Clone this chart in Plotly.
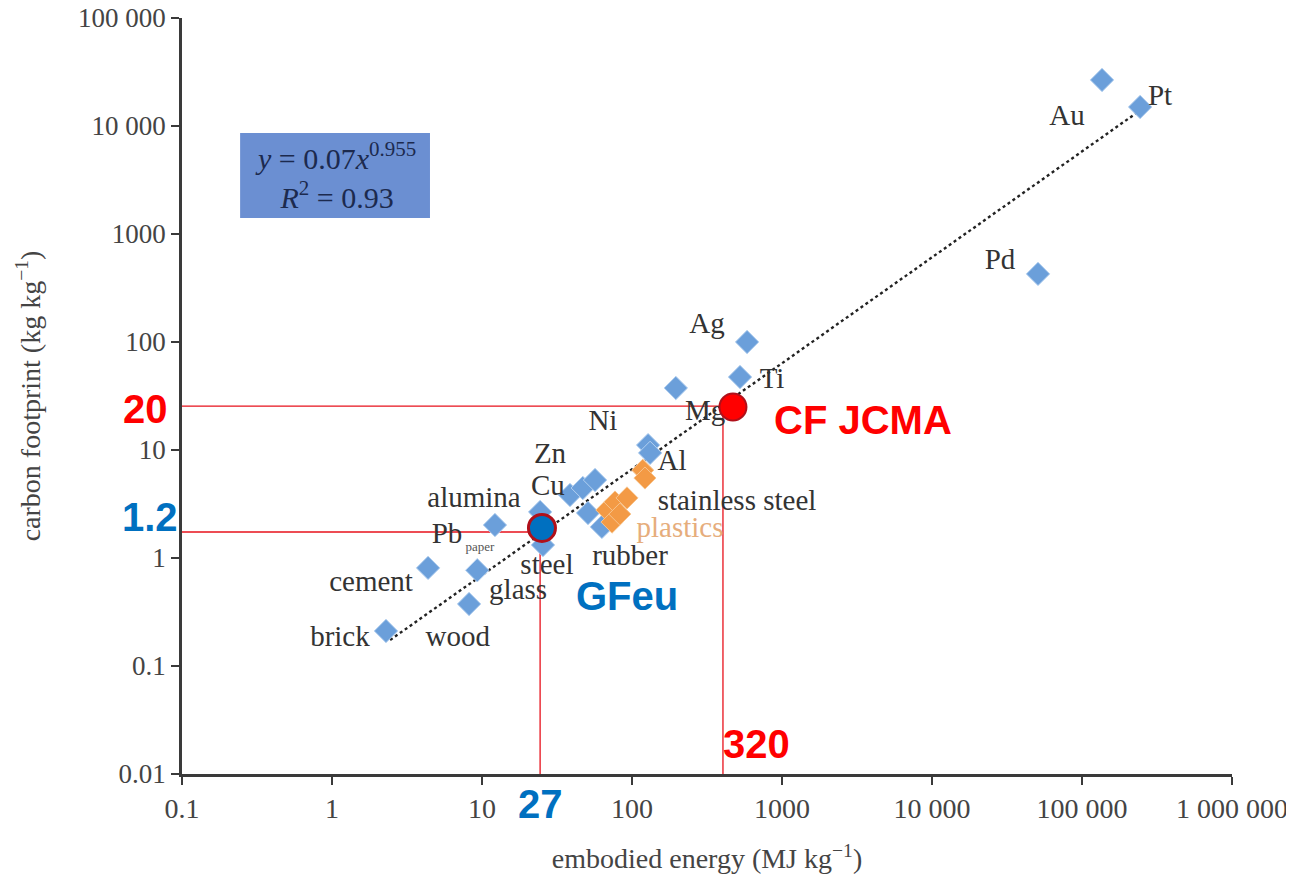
import numpy as np
import plotly.graph_objects as go

# ---- data ----
mat_energy = [2.29, 4.37, 9.3, 8.2, 12.2, 24.4, 25.5, 38.6, 47, 56.7, 50.9, 63,
              128, 132, 196, 525, 585, 50900, 136000, 244000]
mat_carbon = [0.211, 0.81, 0.77, 0.375, 2.02, 2.67, 1.32, 3.83, 4.45, 5.27, 2.61, 1.94,
              11.1, 9.4, 37.5, 47.4, 100, 427, 26700, 15000]

org_energy = [118, 122, 68, 77, 92.6, 73.6, 83]
org_carbon = [6.5, 5.5, 2.78, 3.3, 3.6, 2.15, 2.55]

trend_energy = [2.44, 236000]
trend_carbon = [0.174, 13500]

label_text = ["Au", "Pt", "Pd", "Ag", "Ti", "Mg", "Ni", "Zn", "Al", "Cu", "alumina",
              "stainless steel", "Pb", "rubber", "steel", "cement", "glass", "brick", "wood"]
label_energy = [79400, 331000, 28400, 316, 858, 307, 64, 28.4, 185, 27.5, 8.85,
                501, 5.84, 97, 27.1, 1.82, 17.4, 1.13, 6.9]
label_carbon = [11900, 18200, 551, 141, 43.5, 22, 17.8, 8.8, 7.6, 4.45, 3.44,
                3.23, 1.6, 1.0, 0.83, 0.574, 0.484, 0.18, 0.18]

small_label = ["paper"]
small_energy = [9.7]
small_carbon = [1.24]

plast_label = ["plastics"]
plast_energy = [209]
plast_carbon = [1.82]

# highlighted products
hl_names = ["GFeu", "CF JCMA"]
hl_energy = [25.1, 471]
hl_carbon = [1.9, 25]
guide_energy = [24.4, 404]   # corner of guide lines
guide_carbon = [1.74, 25.5]
hl_xtext = ["27", "320"]
hl_ytext = ["1.2", "20"]

# fit box (data units)
box_energy = [0.244, 4.5]
box_carbon = [1406, 8610]

x_tickvals = [0.1, 1, 10, 100, 1000, 10000, 100000, 1000000]
x_ticktext = ["0.1", "1", "10", "100", "1000", "10 000", "100 000", "1 000 000"]
y_tickvals = [0.01, 0.1, 1, 10, 100, 1000, 10000, 100000]
y_ticktext = ["0.01", "0.1", "1", "10", "100", "1000", "10 000", "100 000"]

X_MIN, Y_MIN = 0.1, 0.01

SERIF = "Liberation Serif, Times New Roman, serif"
SANS = "Liberation Sans, Arial, sans-serif"
RED = "#ff0000"
BLUE = "#0070c0"

fig = go.Figure()

# guide lines (red)
for gx, gy in zip(guide_energy, guide_carbon):
    fig.add_trace(go.Scatter(x=[X_MIN, gx, gx], y=[gy, gy, Y_MIN], mode="lines",
                             line=dict(color="#e8121c", width=1.3),
                             showlegend=False, hoverinfo="skip", cliponaxis=False))

# trend line
fig.add_trace(go.Scatter(x=trend_energy, y=trend_carbon, mode="lines",
                         line=dict(color="#222222", width=2.4, dash="dot"),
                         showlegend=False, hoverinfo="skip"))

# material points
fig.add_trace(go.Scatter(x=mat_energy, y=mat_carbon, mode="markers",
                         marker=dict(symbol="diamond", size=18, color="#6b9fda",
                                     line=dict(color="#b3d0f0", width=1)),
                         showlegend=False))
fig.add_trace(go.Scatter(x=org_energy, y=org_carbon, mode="markers",
                         marker=dict(symbol="diamond", size=17, color="#f39a45",
                                     line=dict(color="#f7c48e", width=1)),
                         showlegend=False))

# labels
fig.add_trace(go.Scatter(x=label_energy, y=label_carbon, mode="text", text=label_text,
                         textfont=dict(family=SERIF, size=29, color="#333333"),
                         showlegend=False, hoverinfo="skip"))
fig.add_trace(go.Scatter(x=small_energy, y=small_carbon, mode="text", text=small_label,
                         textfont=dict(family=SERIF, size=13, color="#555555"),
                         showlegend=False, hoverinfo="skip"))
fig.add_trace(go.Scatter(x=plast_energy, y=plast_carbon, mode="text", text=plast_label,
                         textfont=dict(family=SERIF, size=29, color="#e6ad7c"),
                         showlegend=False, hoverinfo="skip"))

# highlighted dots
fig.add_trace(go.Scatter(x=[hl_energy[0]], y=[hl_carbon[0]], mode="markers",
                         marker=dict(symbol="circle", size=27, color=BLUE,
                                     line=dict(color="#b0101a", width=3)),
                         showlegend=False))
fig.add_trace(go.Scatter(x=[hl_energy[1]], y=[hl_carbon[1]], mode="markers",
                         marker=dict(symbol="circle", size=27, color=RED,
                                     line=dict(color="#b0101a", width=2)),
                         showlegend=False))

lx = np.log10
anns = []
# highlighted names
anns.append(dict(x=lx(hl_energy[0]) + 0.57, y=lx(hl_carbon[0]) - 0.63, xref="x", yref="y",
                 text="<b>" + hl_names[0] + "</b>", showarrow=False,
                 font=dict(family=SANS, size=40, color=BLUE)))
anns.append(dict(x=lx(hl_energy[1]) + 0.87, y=lx(hl_carbon[1]) - 0.12, xref="x", yref="y",
                 text="<b>" + hl_names[1] + "</b>", showarrow=False,
                 font=dict(family=SANS, size=40, color=RED)))
# value labels along axes
anns.append(dict(x=lx(guide_energy[0]), y=-2, xref="x", yref="y", yanchor="top", yshift=-6,
                 text="<b>" + hl_xtext[0] + "</b>", showarrow=False,
                 font=dict(family=SANS, size=40, color=BLUE)))
anns.append(dict(x=lx(guide_energy[1]), y=-2, xref="x", yref="y", xanchor="left", yanchor="bottom",
                 yshift=6, xshift=-2,
                 text="<b>" + hl_xtext[1] + "</b>", showarrow=False,
                 font=dict(family=SANS, size=40, color=RED)))
anns.append(dict(x=0, y=lx(guide_carbon[0]), xref="paper", yref="y", xanchor="right",
                 yanchor="bottom", xshift=-2, yshift=-9,
                 text="<b>" + hl_ytext[0] + "</b>", showarrow=False,
                 font=dict(family=SANS, size=40, color=BLUE)))
anns.append(dict(x=0, y=lx(guide_carbon[1]), xref="paper", yref="y", xanchor="right",
                 yshift=-3, xshift=-12,
                 text="<b>" + hl_ytext[1] + "</b>", showarrow=False,
                 font=dict(family=SANS, size=40, color=RED)))
# equation box text
anns.append(dict(x=lx(np.sqrt(box_energy[0] * box_energy[1])),
                 y=lx(np.sqrt(box_carbon[0] * box_carbon[1])), xref="x", yref="y", showarrow=False,
                 text="<i>y</i> = 0.07<i>x</i><sup>0.955</sup><br><i>R</i><sup>2</sup> = 0.93",
                 font=dict(family=SERIF, size=30, color="#1c2a4e"), align="center"))

fig.update_layout(
    width=1286, height=871,
    margin=dict(l=174, r=62, t=10, b=105),
    paper_bgcolor="white", plot_bgcolor="white",
    annotations=anns,
    shapes=[dict(type="rect", xref="x", yref="y", x0=box_energy[0], x1=box_energy[1],
                 y0=box_carbon[0], y1=box_carbon[1],
                 fillcolor="#6b8fd2", line=dict(color="#6b8fd2", width=0), layer="below")],
    xaxis=dict(type="log", range=[-1, 6], tickvals=x_tickvals, ticktext=x_ticktext,
               automargin=False, ticklabeloverflow="allow",
               showgrid=False, zeroline=False, showline=True, linecolor="#3a3a3a", linewidth=2.5,
               ticks="outside", ticklen=8, tickwidth=2, tickcolor="#3a3a3a",
               tickfont=dict(family=SERIF, size=28, color="#444444"),
               title=dict(text="embodied energy (MJ kg<sup>\u22121</sup>)", standoff=26,
                          font=dict(family=SERIF, size=28, color="#444444"))),
    yaxis=dict(type="log", range=[-2, 5], tickvals=y_tickvals, ticktext=y_ticktext,
               automargin=False, ticklabeloverflow="allow",
               showgrid=False, zeroline=False, showline=True, linecolor="#3a3a3a", linewidth=2.5,
               ticks="outside", ticklen=8, tickwidth=2, tickcolor="#3a3a3a",
               tickfont=dict(family=SERIF, size=27, color="#444444"),
               title=dict(text="carbon footprint (kg kg<sup>\u22121</sup>)", standoff=30,
                          font=dict(family=SERIF, size=28, color="#444444"))),
)

fig.write_html("out.html")
